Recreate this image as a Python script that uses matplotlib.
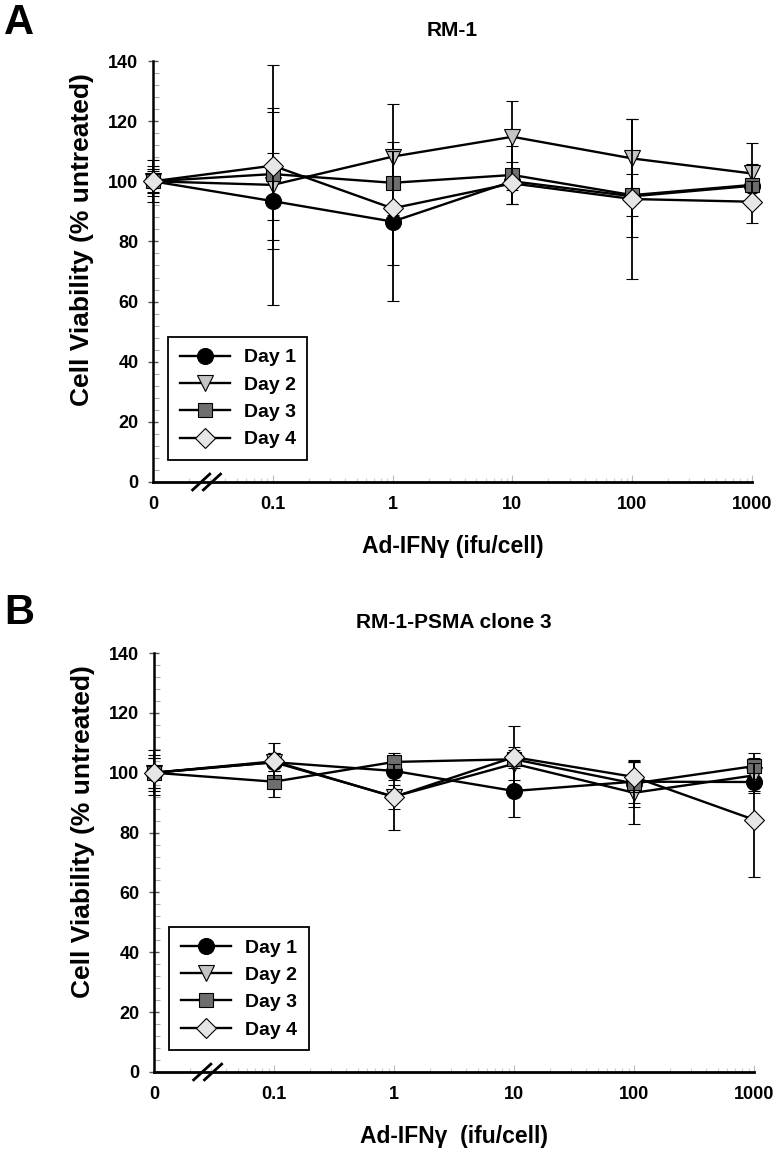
import numpy as np
import matplotlib
matplotlib.use("Agg")
import matplotlib.pyplot as plt
from matplotlib.ticker import FixedLocator, MultipleLocator, LogLocator, NullFormatter

plt.rcParams['font.family'] = ['Liberation Sans', 'DejaVu Sans']
plt.rcParams['font.weight'] = 'bold'

# dózisok (ifu/cell); a 0-t a log tengelyen 0.01-re tesszük (tengelytörés)
doses = [0, 0.1, 1, 10, 100, 1000]
dose_labels = ["0", "0.1", "1", "10", "100", "1000"]
zero_pos = 0.01

days = ["Day 1", "Day 2", "Day 3", "Day 4"]

# A panel: RM-1
rm1_day1 = [100, 93.4, 86.6, 100.0, 95.0, 98.5]
rm1_day2 = [100, 98.8, 108.2, 114.8, 107.6, 102.6]
rm1_day3 = [100, 102.4, 99.5, 102.1, 95.4, 98.8]
rm1_day4 = [100, 105.2, 91.0, 99.3, 94.1, 93.2]
rm1_err1 = [7.0, 16.0, 26.4, 3.0, 13.4, 6.7]
rm1_err2 = [5.0, 40.0, 17.4, 12.0, 13.0, 10.0]
rm1_err3 = [4.0, 22.0, 10.6, 9.6, 7.0, 7.0]
rm1_err4 = [3.5, 18.0, 19.0, 7.0, 26.6, 7.0]

# B panel: RM-1-PSMA clone 3
psma_day1 = [100, 103.5, 100.6, 93.9, 97.0, 96.9]
psma_day2 = [100, 103.5, 92.0, 103.0, 93.3, 99.1]
psma_day3 = [100, 97.0, 103.6, 104.5, 96.4, 102.2]
psma_day4 = [100, 103.8, 91.9, 105.2, 98.6, 84.3]
psma_err1 = [7.5, 3.0, 3.0, 8.7, 7.0, 3.0]
psma_err2 = [6.0, 3.0, 4.0, 5.6, 10.3, 5.8]
psma_err3 = [5.0, 5.0, 3.0, 3.0, 8.0, 4.4]
psma_err4 = [5.0, 6.0, 11.0, 10.4, 5.0, 19.0]

markers = ['o', 'v', 's', 'D']
faces = ['black', '#c4c4c4', '#6e6e6e', '#e6e6e6']
msizes = [11.5, 11.5, 10, 10.5]

x = [zero_pos if d == 0 else d for d in doses]


def draw_panel(ax, series, errors, title, xlabel):
    handles = []
    for i in range(len(series)):
        c = ax.errorbar(x, series[i], yerr=errors[i], color='black', lw=1.7,
                        marker=markers[i], ms=msizes[i], mfc=faces[i], mec='black',
                        mew=0.8, ecolor='black', elinewidth=1.3, capsize=4.5,
                        capthick=1.5, label=days[i], zorder=3 + i)
        for art in c.get_children():
            art.set_clip_on(False)
        handles.append(c[0])
    ax.set_xscale('log')
    ax.set_xlim(zero_pos, 1000)
    ax.set_ylim(0, 140)
    ax.xaxis.set_major_locator(FixedLocator(x))
    ax.set_xticklabels(dose_labels)
    ax.xaxis.set_minor_locator(LogLocator(base=10, subs=np.arange(2, 10)))
    ax.xaxis.set_minor_formatter(NullFormatter())
    ax.yaxis.set_major_locator(MultipleLocator(20))
    ax.yaxis.set_minor_locator(MultipleLocator(4))
    ax.spines['top'].set_visible(False)
    ax.spines['right'].set_visible(False)
    ax.spines['left'].set_linewidth(1.8)
    ax.spines['bottom'].set_linewidth(2.0)
    ax.tick_params(axis='x', which='major', direction='in', length=5, width=0.8,
                   color='#bbbbbb', pad=10, labelsize=13)
    ax.tick_params(axis='x', which='minor', direction='in', length=3, width=0.8,
                   color='#cccccc')
    ax.tick_params(axis='y', which='major', direction='inout', length=7, width=1,
                   color='#555555', pad=7, labelsize=13)
    ax.tick_params(axis='y', which='minor', direction='in', length=4, width=0.8,
                   color='#aaaaaa')
    ax.set_ylabel("Cell Viability (% untreated)", fontsize=19, fontweight='bold')
    ax.yaxis.set_label_coords(-0.098, 0.575)
    ax.set_xlabel(xlabel, fontsize=16.5, fontweight='bold', labelpad=16)
    ax.set_title(title, fontsize=15, fontweight='bold', pad=18)

    # tengelytörés jel
    xb = (np.log10(0.028) - np.log10(zero_pos)) / (np.log10(1000) - np.log10(zero_pos))
    for dx in [-0.009, 0.009]:
        ax.plot([xb + dx - 0.016, xb + dx + 0.016], [-0.021, 0.021],
                transform=ax.transAxes, color='black', lw=2, clip_on=False,
                solid_capstyle='butt')

    leg = ax.legend(handles=handles, labels=days, loc='lower left',
                    bbox_to_anchor=(0.025, 0.052), borderaxespad=0, fontsize=14,
                    handlelength=2.6, fancybox=False, edgecolor='black',
                    framealpha=1, borderpad=0.6, labelspacing=0.5,
                    handletextpad=0.7)
    leg.get_frame().set_linewidth(1.3)


fig = plt.figure(figsize=(7.78, 11.57), dpi=100)

ax_a = fig.add_axes([153 / 778, 1 - 482 / 1157, 599 / 778, 421 / 1157])
draw_panel(ax_a, [rm1_day1, rm1_day2, rm1_day3, rm1_day4],
           [rm1_err1, rm1_err2, rm1_err3, rm1_err4],
           "RM-1", "Ad-IFN\u03b3 (ifu/cell)")

ax_b = fig.add_axes([154 / 778, 1 - 1072 / 1157, 600 / 778, 419 / 1157])
draw_panel(ax_b, [psma_day1, psma_day2, psma_day3, psma_day4],
           [psma_err1, psma_err2, psma_err3, psma_err4],
           "RM-1-PSMA clone 3", "Ad-IFN\u03b3  (ifu/cell)")

fig.text(4 / 778, 1 - 3 / 1157, "A", fontsize=30, fontweight='bold', va='top', ha='left')
fig.text(4 / 778, 1 - 593 / 1157, "B", fontsize=30, fontweight='bold', va='top', ha='left')

plt.savefig("out.png", dpi=100)
plt.close()
